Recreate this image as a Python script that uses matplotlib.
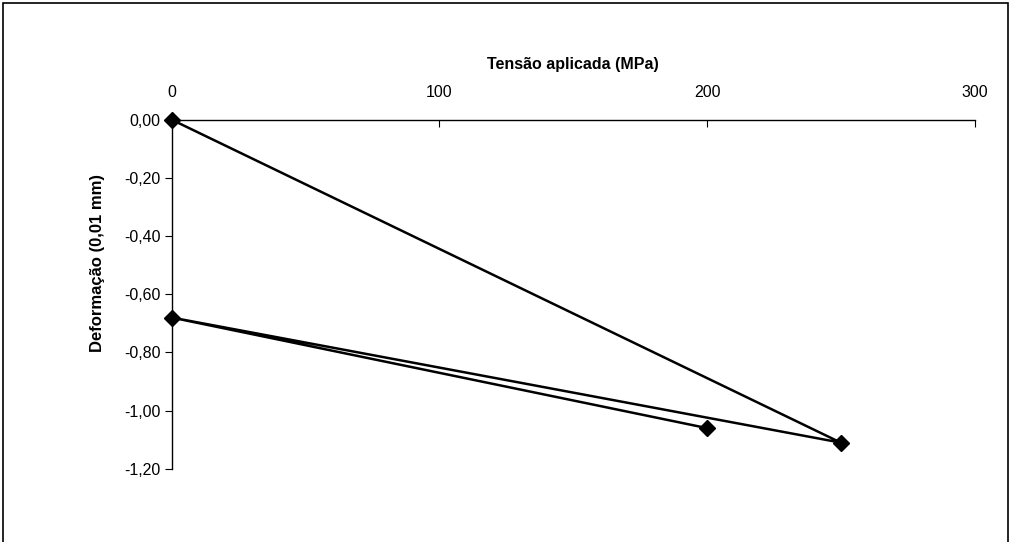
import matplotlib
matplotlib.use("Agg")
import matplotlib.pyplot as plt
from matplotlib.patches import Rectangle
from matplotlib.ticker import FuncFormatter

plt.rcParams['font.family'] = ['Liberation Sans', 'DejaVu Sans']

tensao = [0, 250, 0, 200]
deformacao = [0.00, -1.11, -0.68, -1.06]
x_ticks = [0, 100, 200, 300]
y_ticks = [0.0, -0.2, -0.4, -0.6, -0.8, -1.0, -1.2]

fig = plt.figure(figsize=(10.11, 5.42), dpi=100)
ax = fig.add_axes([0.170, 0.135, 0.794, 0.644])

ax.plot(tensao, deformacao, color='black', lw=1.8, marker='D', markersize=8,
        markerfacecolor='black', markeredgecolor='black', clip_on=False, zorder=3)

ax.set_xlim(0, 300)
ax.set_ylim(-1.2, 0)
ax.set_xticks(x_ticks)
ax.set_yticks(y_ticks)
ax.xaxis.tick_top()
ax.xaxis.set_label_position('top')
ax.spines['right'].set_visible(False)
ax.spines['bottom'].set_visible(False)
for s in ['top', 'left']:
    ax.spines[s].set_linewidth(1.0)
ax.tick_params(axis='x', direction='in', length=5, pad=14, labelsize=11.5)
ax.tick_params(axis='y', direction='out', length=5, pad=3, labelsize=11.5)
ax.yaxis.set_major_formatter(FuncFormatter(lambda v, p: f"{v:.2f}".replace('.', ',').replace('-0,00', '0,00')))
ax.set_xlabel('Tensão aplicada (MPa)', fontweight='bold', fontsize=11.5, labelpad=12)
fig.text(0.096, 0.515, 'Deformação (0,01 mm)', rotation=90, fontweight='bold',
         fontsize=12, ha='center', va='center')

fig.patches.append(Rectangle((0.003, -0.1), 0.994, 1.094, transform=fig.transFigure,
                             fill=False, edgecolor='black', lw=1.2))

fig.savefig('out.png', dpi=100)
